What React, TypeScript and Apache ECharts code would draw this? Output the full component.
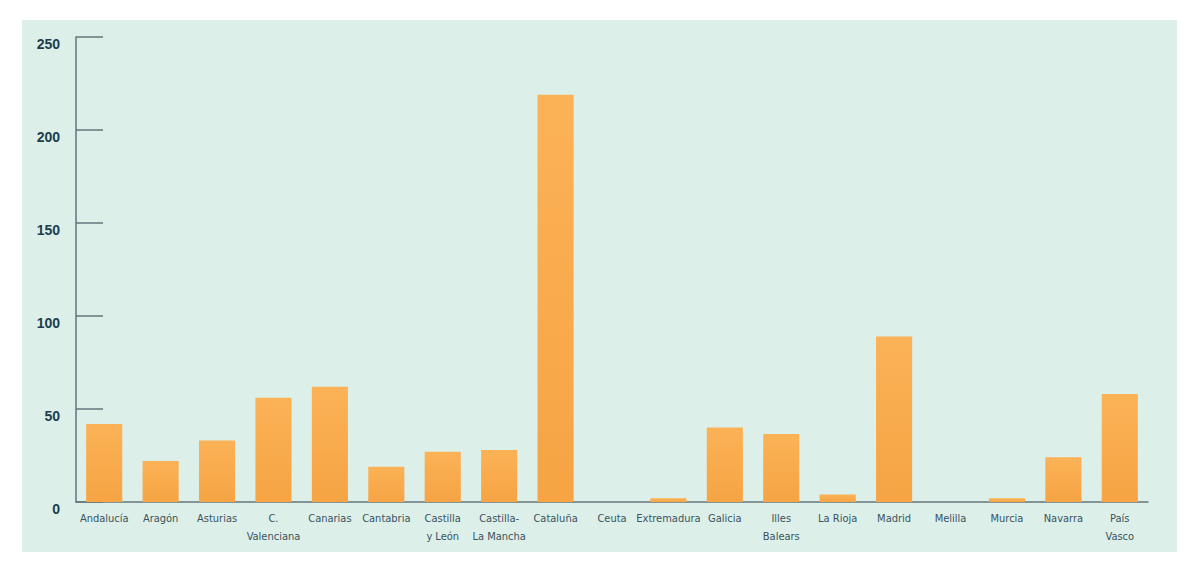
import React, { useEffect, useRef } from "react";
import * as echarts from "echarts";

const categories = [
  "Andalucía", "Aragón", "Asturias", "C.\nValenciana", "Canarias", "Cantabria",
  "Castilla\ny León", "Castilla-\nLa Mancha", "Cataluña", "Ceuta", "Extremadura",
  "Galicia", "Illes\nBalears", "La Rioja", "Madrid", "Melilla", "Murcia", "Navarra", "País\nVasco",
];
const values = [42, 22, 33, 56, 62, 19, 27, 28, 219, 0, 2, 40, 36.5, 4, 89, 0, 2, 24, 58];
const yTicks = [0, 50, 100, 150, 200, 250];

export default function App() {
  const ref = useRef<HTMLDivElement>(null);
  useEffect(() => {
    const chart = echarts.init(ref.current!, null, { renderer: "svg" });
    chart.setOption({
      animation: false,
      backgroundColor: "#ffffff",
      graphic: [
        {
          type: "rect",
          z: -10,
          shape: { x: 22, y: 20, width: 1155, height: 532 },
          style: { fill: "#dcefe9" },
          silent: true,
        },
      ],
      grid: { left: 76, right: 52, top: 37, bottom: 69 },
      xAxis: {
        type: "category",
        data: categories,
        axisLine: { lineStyle: { color: "#66767b", width: 1.5 } },
        axisTick: { inside: true, length: 11, lineStyle: { color: "#66767b", width: 1.5 } },
        axisLabel: {
          interval: 0,
          margin: 7,
          fontSize: 11,
          lineHeight: 18,
          color: "#3a5360",
          fontFamily: "'Liberation Sans Narrow', 'Arial Narrow', 'DejaVu Sans Condensed', sans-serif",
        },
      },
      yAxis: {
        type: "value",
        min: yTicks[0],
        max: yTicks[yTicks.length - 1],
        interval: 50,
        splitLine: { show: false },
        axisLine: { show: true, lineStyle: { color: "#66767b", width: 1.5 } },
        axisTick: { show: true, inside: true, length: 27, lineStyle: { color: "#66767b", width: 1.5 } },
        axisLabel: {
          margin: 16,
          fontSize: 14,
          fontWeight: "bold",
          color: "#1e3d4d",
          fontFamily: "'Liberation Sans Narrow', 'Arial Narrow', sans-serif",
          verticalAlign: "top",
        },
      },
      series: [
        {
          type: "bar",
          data: values,
          barWidth: "64%",
          itemStyle: {
            color: new echarts.graphic.LinearGradient(0, 0, 0, 1, [
              { offset: 0, color: "#fbb256" },
              { offset: 1, color: "#f6a444" },
            ]),
          },
        },
      ],
    });
    return () => chart.dispose();
  }, []);
  return (
    <div
      ref={ref}
      style={{ position: "fixed", left: 0, top: 0, width: 1200, height: 571 }}
    />
  );
}
